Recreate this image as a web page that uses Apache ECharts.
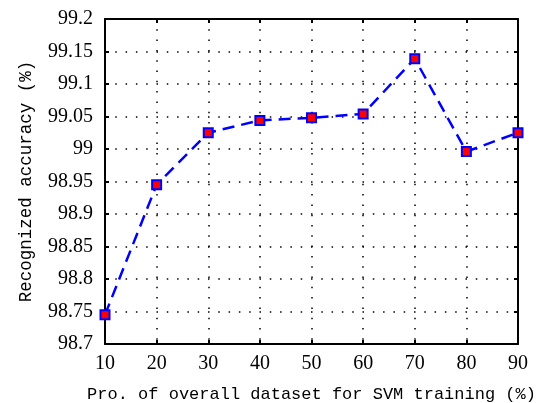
<!DOCTYPE html>
<html>
<head>
<meta charset="utf-8">
<script src="https://cdn.jsdelivr.net/npm/echarts@6/dist/echarts.min.js"></script>
<style>
  html, body { margin: 0; padding: 0; background: #fff; }
  #divChart { width: 541px; height: 403px; }
</style>
</head>
<body>
<div id="divChart"></div>
<script>
// training proportion (%)
var xValues = [10, 20, 30, 40, 50, 60, 70, 80, 90];
// recognized accuracy (%)
var accValues = [98.745, 98.945, 99.025, 99.044, 99.048, 99.054, 99.139, 98.996, 99.025];

var xName = 'Pro. of overall dataset for SVM training (%)';
var yName = 'Recognized accuracy (%)';

var numFont = '"Liberation Serif", serif';
var titleFont = '"Liberation Mono", monospace';

var dotted = { color: '#000', width: 1.5, type: [1.5, 8.8] };

function pairs() {
  var arr = [];
  for (var i = 0; i < xValues.length; i++) {
    arr.push([xValues[i], accValues[i]]);
  }
  return arr;
}

var option = {
  backgroundColor: '#fff',
  animation: false,
  grid: { left: 105, right: 23, top: 19, bottom: 59, outerBoundsMode: 'none', containLabel: false },
  xAxis: [{
    type: 'value', min: 10, max: 90, interval: 10,
    name: xName, nameLocation: 'middle', nameGap: 42,
    nameTextStyle: { fontFamily: titleFont, fontSize: 17, color: '#000' },
    axisLine: { show: true, onZero: false, lineStyle: { color: '#000', width: 2 } },
    axisTick: { show: true, inside: true, length: 4, lineStyle: { color: '#000', width: 2 } },
    axisLabel: { fontFamily: numFont, fontSize: 20, color: '#000', margin: 10 },
    splitLine: { show: true, lineStyle: dotted }
  }, {
    type: 'value', min: 10, max: 90, interval: 10, position: 'top',
    axisLine: { show: true, lineStyle: { color: '#000', width: 2 } },
    axisTick: { show: true, inside: true, length: 4, lineStyle: { color: '#000', width: 2 } },
    axisLabel: { show: false },
    splitLine: { show: false }
  }],
  yAxis: [{
    type: 'value', min: 98.7, max: 99.2, interval: 0.05,
    name: yName, nameLocation: 'middle', nameGap: 70,
    nameTextStyle: { fontFamily: titleFont, fontSize: 17.5, color: '#000' },
    axisLine: { show: true, onZero: false, lineStyle: { color: '#000', width: 2 } },
    axisTick: { show: true, inside: true, length: 4, lineStyle: { color: '#000', width: 2 } },
    axisLabel: {
      fontFamily: numFont, fontSize: 20, color: '#000', margin: 12,
      formatter: function (v) { return String(parseFloat(v.toFixed(2))); }
    },
    splitLine: { show: true, lineStyle: dotted }
  }, {
    type: 'value', min: 98.7, max: 99.2, interval: 0.05, position: 'right',
    axisLine: { show: true, lineStyle: { color: '#000', width: 2 } },
    axisTick: { show: true, inside: true, length: 4, lineStyle: { color: '#000', width: 2 } },
    axisLabel: { show: false },
    splitLine: { show: false }
  }],
  series: [{
    type: 'line',
    data: pairs(),
    symbol: 'rect',
    symbolSize: 9,
    lineStyle: { color: '#0000ff', width: 2.5, type: [12, 7] },
    itemStyle: { color: '#ff0000', borderColor: '#0000ff', borderWidth: 2 }
  }]
};

var divChart = echarts.init(document.getElementById('divChart'));
divChart.setOption(option);
</script>
</body>
</html>
